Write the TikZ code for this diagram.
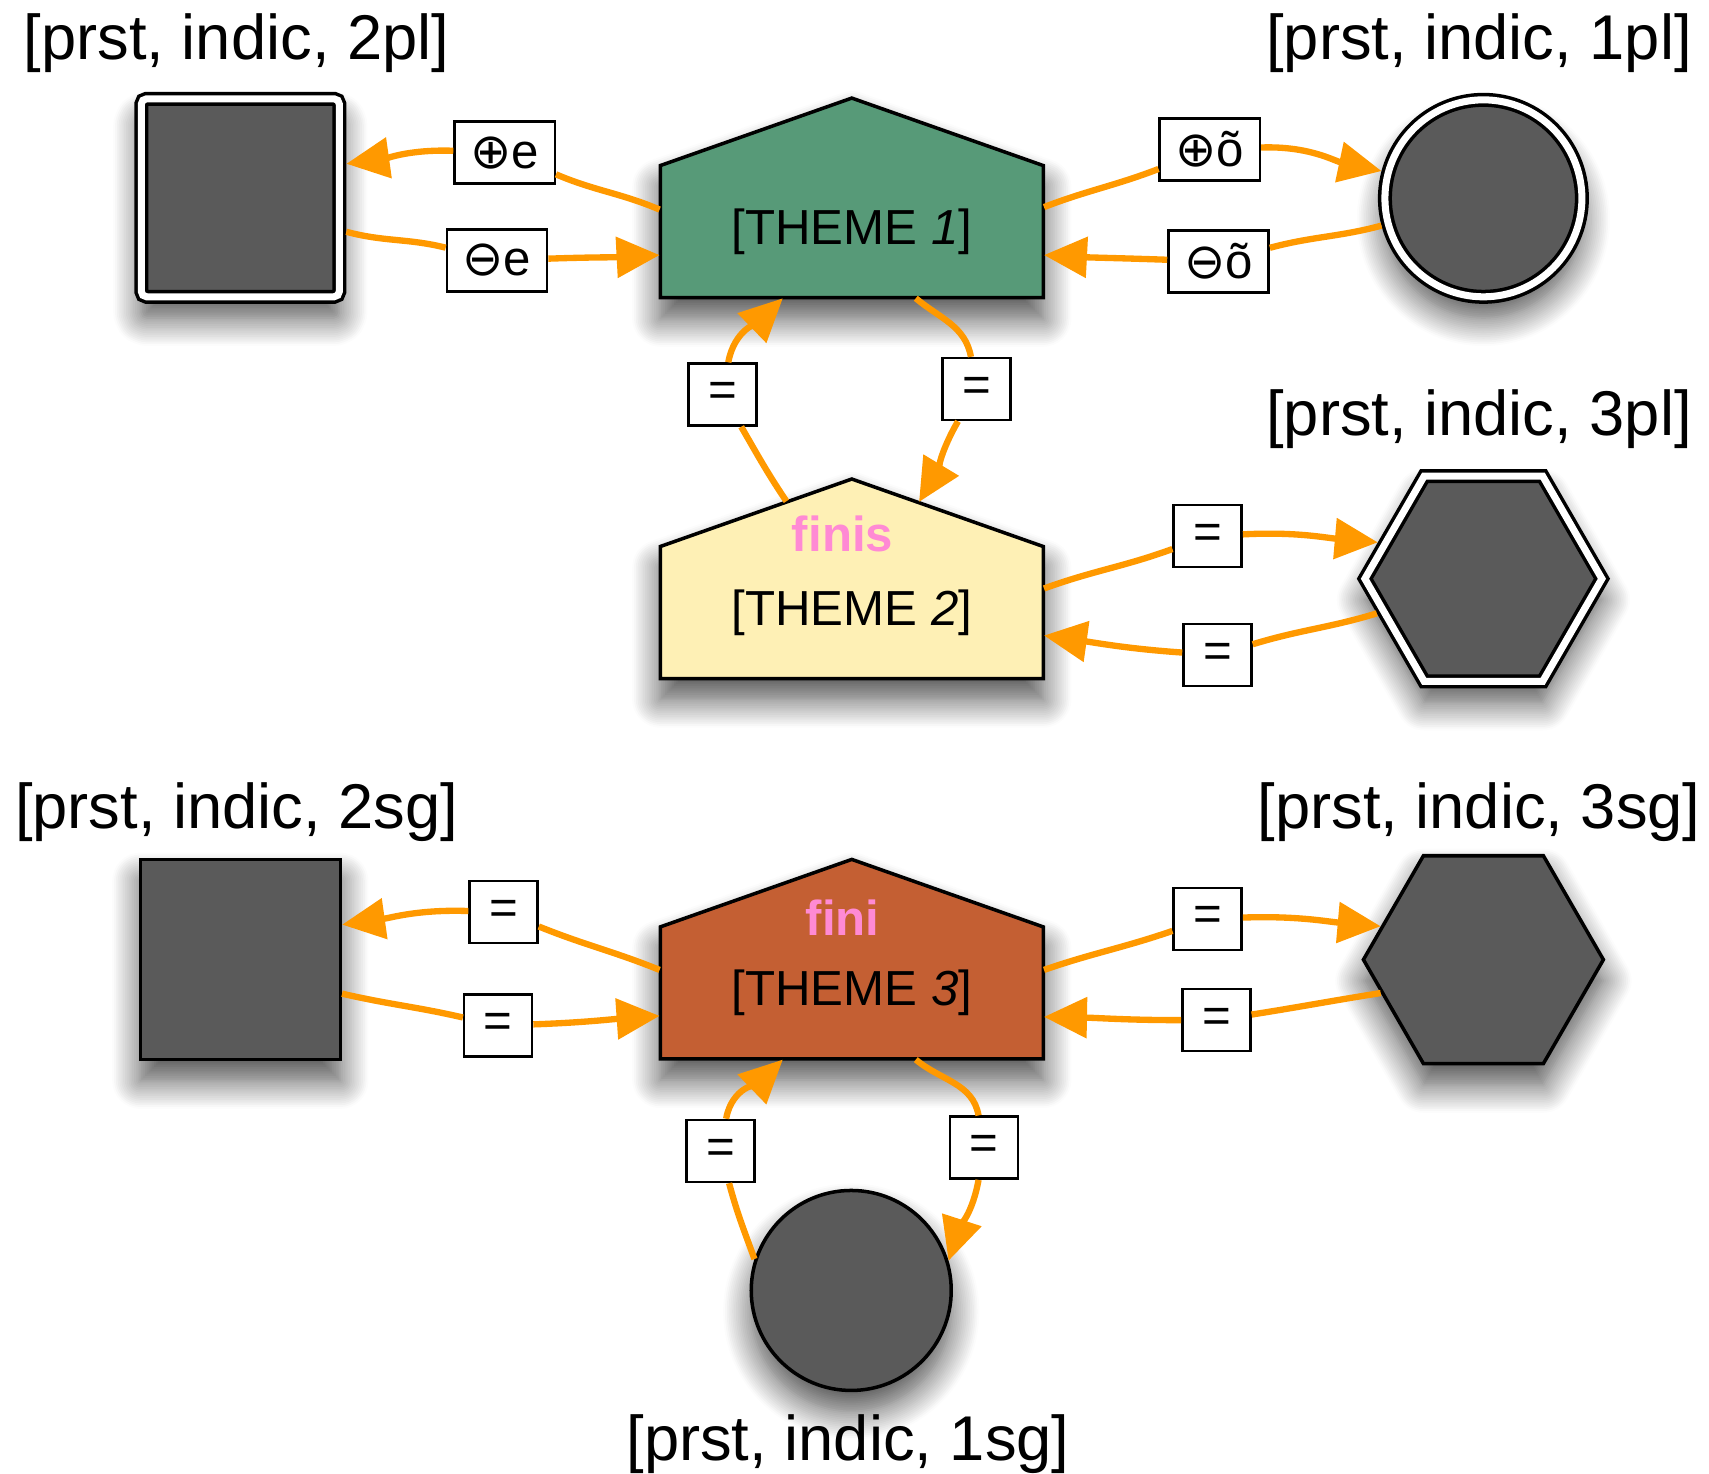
\documentclass[tikz,border=0pt]{standalone}
\usepackage{fontspec}
\setmainfont{Liberation Sans}
\newfontfamily\opsfont{DejaVu Sans}
\usetikzlibrary{arrows.meta,shapes.geometric,calc,shadows.blur}

\definecolor{cellgray}{HTML}{5A5A5A}
\definecolor{themegreen}{HTML}{579A78}
\definecolor{themeyellow}{HTML}{FEF0B5}
\definecolor{themerust}{HTML}{C45F33}
\definecolor{linkorange}{HTML}{FF9900}
\definecolor{glosspink}{HTML}{FF8AD4}

\tikzset{
  soft/.style={blur shadow={shadow xshift=0pt, shadow yshift=-6pt, shadow blur radius=8pt, shadow blur steps=16, shadow opacity=70}},
  cell/.style={draw=black, line width=1pt, fill=cellgray, inner sep=0pt, soft},
  dbl/.style={cell, double=white, double distance=2pt, outer sep=2pt},
  theme/.style={minimum width=3.83cm, minimum height=1.32cm, inner sep=0pt, font=\fontsize{14}{17}\selectfont},
  house/.style={draw=black, line width=1pt, soft},
  gloss/.style={font=\fontsize{14}{17}\selectfont\bfseries, text=glosspink},
  feat/.style={font=\fontsize{18}{22}\selectfont},
  edgetag/.style={draw=black, fill=white, line width=0.7pt, minimum width=0.68cm, minimum height=0.62cm, inner xsep=4.5pt, font=\fontsize{14}{17}\selectfont},
  linkarrow/.style={draw=linkorange, line width=1.8pt, -{Triangle[length=4.3mm, width=4mm]}}
}

\begin{document}
\begin{tikzpicture}[x=1.09cm, y=1.09cm]
  \useasboundingbox (0,0) rectangle (15.68,13.52);

  % Theme houses
  \coordinate (h1) at (7.815,11.395);
  \coordinate (h2) at (7.815,7.90);
  \coordinate (h3) at (7.815,4.41);
  \filldraw[house, fill=themegreen] ($(h1)+(-1.915cm,-0.66cm)$) -- ++(0,1.32cm) -- ++(1.915cm,0.675cm) -- ++(1.915cm,-0.675cm) -- ++(0,-1.32cm) -- cycle;
  \filldraw[house, fill=themeyellow] ($(h2)+(-1.915cm,-0.66cm)$) -- ++(0,1.32cm) -- ++(1.915cm,0.675cm) -- ++(1.915cm,-0.675cm) -- ++(0,-1.32cm) -- cycle;
  \filldraw[house, fill=themerust] ($(h3)+(-1.915cm,-0.66cm)$) -- ++(0,1.32cm) -- ++(1.915cm,0.675cm) -- ++(1.915cm,-0.675cm) -- ++(0,-1.32cm) -- cycle;
  \node[theme] (theme1) at (h1) {[THEME \textit{1}]};
  \node[theme] (theme2) at (h2) {[THEME \textit{2}]};
  \node[theme] (theme3) at (h3) {[THEME \textit{3}]};
  \coordinate (roof2) at ($(theme2.north)+(0,0.675cm)$);
  \node[gloss] (gloss2) at (7.73,8.62) {finis};
  \node[gloss] (gloss3) at (7.73,5.10) {fini};

  % Plural cells
  \node[dbl, rounded corners=1.5pt, minimum size=1.98cm] (pl2) at (2.205,11.705) {};
  \node[dbl, circle, minimum size=1.97cm] (pl1) at (13.61,11.70) {};
  \node[dbl, regular polygon, regular polygon sides=6, minimum size=2.37cm] (pl3) at (13.61,8.21) {};

  % Singular cells
  \node[cell, minimum size=2.0cm] (sg2) at (2.205,4.715) {};
  \node[cell, regular polygon, regular polygon sides=6, minimum size=2.4cm] (sg3) at (13.61,4.715) {};
  \node[cell, circle, minimum size=2.0cm] (sg1) at (7.81,1.68) {};

  % Feature labels
  \node[feat] (fpl2) at (2.17,13.12) {[prst, indic, 2pl]};
  \node[feat] (fpl1) at (13.57,13.12) {[prst, indic, 1pl]};
  \node[feat] (fpl3) at (13.57,9.67) {[prst, indic, 3pl]};
  \node[feat] (fsg2) at (2.17,6.07) {[prst, indic, 2sg]};
  \node[feat] (fsg3) at (13.57,6.07) {[prst, indic, 3sg]};
  \node[feat] (fsg1) at (7.78,0.27) {[prst, indic, 1sg]};

  % Edge tags
  \node[edgetag] (a1) at (4.63,12.12) {{\opsfont ⊕}e};
  \node[edgetag] (a2) at (4.56,11.13) {{\opsfont ⊖}e};
  \node[edgetag] (a3) at (11.10,12.15) {{\opsfont ⊕}õ};
  \node[edgetag] (a4) at (11.18,11.12) {{\opsfont ⊖}õ};
  \node[edgetag] (a5) at (6.63,9.90) {=};
  \node[edgetag] (a6) at (8.96,9.95) {=};
  \node[edgetag] (a7) at (11.08,8.60) {=};
  \node[edgetag] (a8) at (11.17,7.51) {=};
  \node[edgetag] (a9) at (4.62,5.15) {=};
  \node[edgetag] (a10) at (4.57,4.11) {=};
  \node[edgetag] (a11) at (11.08,5.09) {=};
  \node[edgetag] (a12) at (11.16,4.16) {=};
  \node[edgetag] (a13) at (6.61,2.96) {=};
  \node[edgetag] (a14) at (9.03,2.99) {=};

  % Top group
  \draw[linkarrow] ([yshift=0.22cm]theme1.west) to[out=157,in=-23] (a1) to[out=178,in=8] ([yshift=0.34cm]pl2.east);
  \draw[linkarrow] ([yshift=-0.34cm]pl2.east) to[out=-15,in=166] (a2) to[out=2,in=183] ([yshift=-0.235cm]theme1.west);
  \draw[linkarrow] ([yshift=0.245cm]theme1.east) to[out=21,in=-159] (a3) to[out=2,in=168] (pl1.165);
  \draw[linkarrow] (pl1.195) to[out=195,in=15] (a4) to[out=178,in=-3] ([yshift=-0.235cm]theme1.east);
  \draw[linkarrow] ($(theme2.north west)!0.66!(roof2)$) to[out=124,in=-60] (a5) to[out=80,in=224] ([xshift=-0.69cm]theme1.south);
  \draw[linkarrow] ([xshift=0.64cm]theme1.south) to[out=-40,in=100] (a6) to[out=-120,in=59] ($(theme2.north east)!0.65!(roof2)$);
  \draw[linkarrow] ([yshift=0.24cm]theme2.east) to[out=20,in=-160] (a7) to[out=3,in=175] (pl3.161);
  \draw[linkarrow] (pl3.198) to[out=197,in=17] (a8) to[out=176,in=-8] ([yshift=-0.23cm]theme2.east);

  % Bottom group
  \draw[linkarrow] ([yshift=0.23cm]theme3.west) to[out=158,in=-22] (a9) to[out=178,in=8] ([yshift=0.35cm]sg2.east);
  \draw[linkarrow] ([yshift=-0.34cm]sg2.east) to[out=-13,in=167] (a10) to[out=2,in=184] ([yshift=-0.23cm]theme3.west);
  \draw[linkarrow] ([yshift=0.23cm]theme3.east) to[out=19,in=-161] (a11) to[out=2,in=175] (sg3.162);
  \draw[linkarrow] (sg3.198) to[out=189,in=9] (a12) to[out=180,in=-1] ([yshift=-0.24cm]theme3.east);
  \draw[linkarrow] (sg1.162) to[out=110,in=-75] (a13) to[out=80,in=224] ([xshift=-0.69cm]theme3.south);
  \draw[linkarrow] ([xshift=0.64cm]theme3.south) to[out=-40,in=100] (a14) to[out=-100,in=72] (sg1.17);
\end{tikzpicture}
\end{document}
